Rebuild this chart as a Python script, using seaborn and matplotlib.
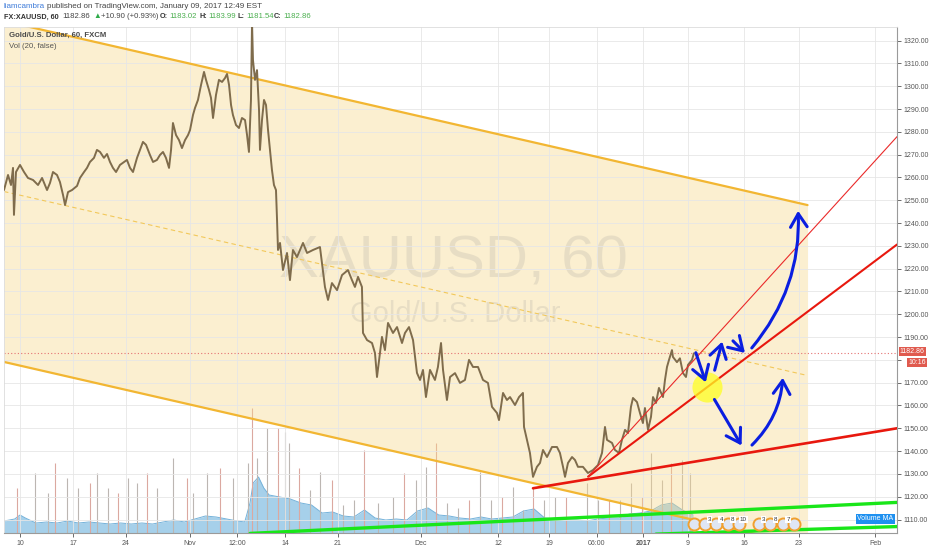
import numpy as np
import pandas as pd
import seaborn as sns
import matplotlib.pyplot as plt
from matplotlib.patches import FancyArrowPatch
from matplotlib.transforms import blended_transform_factory

# x axis = trading days since Mon 10 Oct 2016 (TradingView skips weekends)
price_day = [-1.51, -1.13, -0.85, -0.66, -0.57, -0.38, 0.00, 0.38, 0.75, 1.23, 1.70, 2.08, 2.55, 2.83, 3.11, 3.49,
             3.77, 4.06, 4.25, 4.53, 4.91, 5.38, 5.66, 6.04, 6.32, 6.60, 6.98, 7.26, 7.55, 7.92, 8.21, 8.49,
             8.77, 9.06, 9.43, 9.81, 10.09, 10.38, 10.66, 11.04, 11.32, 11.60, 11.89, 12.26, 12.55, 12.92,
             13.21, 13.49, 13.77, 14.06, 14.25, 14.43, 14.72, 15.00, 15.28, 15.57, 15.85, 16.04, 16.32, 16.51,
             16.79, 17.08, 17.36, 17.55, 17.83, 18.02, 18.21, 18.49, 18.77, 19.06, 19.34, 19.53, 19.72, 19.91,
             20.09, 20.38, 20.66, 20.94, 21.23, 21.42, 21.60, 21.79, 21.89, 21.98, 22.17, 22.36, 22.55, 22.64,
             22.83, 23.02, 23.21, 23.40, 23.58, 23.77, 23.96, 24.15,
             24.25, 24.34, 24.53, 24.81, 25.19, 25.47, 25.75, 26.13, 26.70, 27.08, 27.64, 28.30, 28.49, 28.77,
             29.06, 29.43, 29.91, 30.38, 30.94, 31.32, 31.60, 31.89, 32.26, 32.36, 32.74, 33.21, 33.49, 33.68,
             34.15, 34.43, 34.72, 35.19, 35.57, 36.04, 36.32, 36.70, 37.08, 37.45, 37.74, 38.02, 38.30, 38.68,
             39.15, 39.43, 39.72, 39.91, 40.28, 40.57, 41.04, 41.51, 41.98, 42.36, 42.74, 43.21, 43.68, 44.15,
             44.53, 45.00, 45.19, 45.57, 45.94, 46.23, 46.70, 47.08, 47.45, 47.55, 47.83, 48.11, 48.40, 48.77,
             49.06, 49.34, 49.72, 50.19, 50.66, 50.94, 51.23, 51.42, 51.70, 52.08, 52.36, 52.64, 53.11, 53.58,
             54.06, 54.53, 54.91, 55.19, 55.38, 55.85, 56.13, 56.51, 56.79, 57.08, 57.36, 57.64, 57.83, 58.21,
             58.49, 58.77, 58.96, 59.25, 59.53, 59.72, 60.00, 60.28, 60.66, 60.85, 61.04, 61.23, 61.51, 61.60,
             61.98, 62.26, 62.55, 62.83, 63.02, 63.40, 63.58]
price_close = [1254.5, 1261.1, 1256.7, 1264.2, 1243.6, 1262.4, 1265.5, 1262.4, 1259.8, 1258.9, 1256.7, 1259.8,
               1254.5, 1257.6, 1262.4, 1261.1, 1258.0, 1252.3, 1247.9, 1253.6, 1254.5, 1256.3, 1259.8, 1262.4,
               1264.2, 1266.8, 1268.6, 1272.1, 1271.2, 1268.6, 1270.3, 1266.8, 1264.2, 1262.4, 1265.5, 1266.8,
               1267.7, 1264.2, 1262.4, 1268.6, 1272.1, 1275.6, 1274.3, 1269.9, 1266.8, 1267.7, 1269.9, 1271.2,
               1268.6, 1264.2, 1272.1, 1283.9, 1278.6, 1276.4, 1272.9, 1276.4, 1278.6, 1280.8, 1287.4, 1290.5,
               1294.0, 1300.6, 1306.3, 1302.8, 1298.4, 1294.9, 1286.1, 1296.2, 1302.8, 1301.9, 1303.6, 1305.4,
               1300.6, 1291.8, 1287.4, 1283.0, 1281.7, 1286.1, 1285.2, 1278.6, 1271.2, 1294.0, 1328.0, 1311.5,
               1302.8, 1307.1, 1289.6, 1272.1, 1285.2, 1294.0, 1291.8, 1280.8, 1272.1, 1263.3, 1256.7, 1254.5,
               1241.4, 1228.2, 1231.3, 1219.4, 1226.9, 1215.0, 1228.2, 1225.1, 1231.3, 1226.9, 1228.2, 1229.5,
               1222.5, 1212.0, 1206.3, 1213.7, 1210.6, 1217.2, 1219.4, 1215.0, 1212.0, 1216.4, 1212.0, 1191.8,
               1188.7, 1187.4, 1183.0, 1172.5, 1190.1, 1184.3, 1196.2, 1191.8, 1194.4, 1187.4, 1191.8, 1194.4,
               1188.7, 1174.3, 1171.2, 1175.6, 1163.7, 1175.6, 1171.2, 1176.9, 1187.4, 1175.6, 1162.4, 1172.5,
               1174.2, 1169.9, 1171.2, 1180.0, 1176.9, 1176.9, 1171.2, 1169.9, 1159.4, 1156.7, 1153.6, 1165.5,
               1162.4, 1163.7, 1160.2, 1163.7, 1165.5, 1150.6, 1144.9, 1139.2, 1128.7, 1133.1, 1134.8, 1140.5,
               1137.4, 1141.8, 1141.8, 1139.2, 1133.1, 1128.7, 1134.8, 1137.4, 1136.1, 1133.1, 1133.1, 1130.4,
               1131.7, 1133.9, 1139.2, 1150.6, 1144.9, 1143.6, 1140.5, 1139.2, 1144.9, 1149.3, 1147.9, 1159.4,
               1163.3, 1161.5, 1156.7, 1152.3, 1158.9, 1149.3, 1155.0, 1163.7, 1161.1, 1167.7, 1163.7, 1171.2,
               1176.9, 1180.0, 1184.3, 1181.3, 1179.0, 1180.7, 1174.2, 1172.5, 1177.8, 1180.0, 1182.9]
last_price = 1182.86

# volume pane (arbitrary units), smoothed body + the hourly spikes
vol_day = [-1.5, -0.5, 0.0, 0.5, 1.5, 2.5, 3.5, 4.5, 5.5, 6.5, 7.5, 8.5, 9.5, 10.5, 11.5, 12.5, 13.5, 14.5,
           15.5, 16.5, 17.5, 18.5, 19.5, 20.5, 21.2, 21.7, 22.0, 22.5, 23.0, 23.5, 24.5, 25.5, 26.5, 27.5,
           28.5, 29.5, 30.5, 31.5, 32.5, 33.5, 34.5, 35.5, 36.5, 37.5, 38.5, 39.5, 40.5, 41.5, 42.5, 43.5,
           44.5, 45.5, 46.5, 47.5, 48.5, 49.5, 50.5, 51.5, 52.5, 53.5, 54.5, 55.5, 56.5, 57.5, 58.5, 59.5,
           60.5, 61.5, 62.5, 63.5]
vol_level = [12, 14, 18, 15, 10, 11, 10, 12, 10, 11, 10, 9, 10, 9, 10, 9, 11, 13, 11, 14, 17, 16, 14, 12,
             11, 30, 50, 56, 45, 38, 36, 34, 30, 28, 20, 21, 17, 16, 23, 15, 13, 14, 13, 22, 25, 18, 17, 15,
             14, 16, 14, 15, 16, 22, 24, 15, 14, 13, 13, 12, 14, 15, 15, 19, 20, 22, 28, 30, 23, 18]
spike_day = [-0.3, 1.4, 2.6, 3.3, 4.4, 5.5, 6.6, 7.3, 8.3, 9.2, 10.2, 11.0, 12.0, 12.9, 14.4, 15.8, 16.3,
             17.6, 18.9, 20.1, 21.5, 21.9, 22.4, 23.3, 24.3, 25.0, 25.4, 26.3, 27.4, 28.3, 29.4, 30.5, 31.5,
             32.5, 33.8, 35.2, 36.2, 37.4, 38.3, 39.2, 40.3, 41.3, 42.4, 43.4, 44.4, 45.5, 46.5, 47.5, 48.4,
             49.4, 50.5, 51.5, 53.5, 54.5, 55.6, 56.6, 57.6, 58.7, 59.5, 60.6, 61.4, 62.5, 63.2]
spike_height = [45, 60, 40, 70, 55, 45, 50, 60, 45, 40, 55, 50, 60, 45, 75, 55, 40, 60, 65, 55, 70, 125,
                75, 105, 105, 101, 90, 65, 43, 61, 53, 28, 33, 83, 30, 36, 60, 53, 66, 90, 30, 25, 33, 61,
                33, 36, 46, 23, 46, 33, 36, 36, 50, 33, 33, 33, 50, 36, 80, 53, 70, 73, 60]

# drawings: channel, trend lines, support lines
chan_day = [-1.51, 74.3]
chan_upper = [1328.6, 1247.9]
chan_lower = [1179.1, 1098.4]
chan_mid = [1253.85, 1173.15]
red_thick_day, red_thick = [48.4, 82.74], [1123.7, 1150.0]
red_mid_day, red_mid = [53.6, 82.74], [1128.8, 1230.6]
red_thin_day, red_thin = [53.6, 82.74], [1128.8, 1277.9]
green_up_day, green_up = [21.7, 82.74], [1103.9, 1117.5]
green_low_day, green_low = [60.0, 82.74], [1103.6, 1106.9]

# hand-drawn forecast arrows: (start day, start price, end day, end price, curvature)
arrow_paths = [(63.68, 1184.3, 64.78, 1169.0, 0.0),
               (65.47, 1174.3, 66.32, 1189.2, 0.0),
               (67.08, 1189.2, 68.58, 1182.2, 0.0),
               (68.87, 1184.3, 73.40, 1246.6, 0.2),
               (65.38, 1163.7, 68.21, 1141.4, 0.0),
               (68.87, 1141.8, 71.98, 1173.4, 0.2)]
pivot_day, pivot_price = 64.78, 1168.2

# economic calendar icons
event_day = [63.6, 64.6, 65.7, 66.8, 67.8, 69.7, 70.8, 72.0, 73.0]
event_count = ['', '3', '4', '8', '10', '3', '8', '7', '']

tick_day = [0, 5, 10, 16.0, 20.5, 25, 30, 37.8, 45.1, 49.9, 54.4, 58.8, 63.0, 68.3, 73.5, 80.7]
tick_label = ['10', '17', '24', 'Nov', '12:00', '14', '21', 'Dec', '12', '19', '06:00', '2017', '9', '16',
              '23', 'Feb']
price_ticks = list(range(1110, 1321, 10))

sns.set_theme(style='white')
plt.rcParams['font.family'] = ['Liberation Sans', 'DejaVu Sans']

fig = plt.figure(figsize=(9.32, 5.5), dpi=100)
ax = fig.add_axes([4 / 932, 17 / 550, 893 / 932, 506 / 550])
axv = ax.twinx()
ax.set_zorder(axv.get_zorder() + 1)
ax.patch.set_visible(False)

# volume
axv.fill_between(vol_day, 0, vol_level, color='#a6d0ea', lw=0)
axv.plot(vol_day, vol_level, color='#74b2da', lw=0.7)
spike_cols = ['#bcb6b2' if i % 3 else '#dba8a0' for i in range(len(spike_day))]
axv.vlines(spike_day, 0, spike_height, colors=spike_cols, lw=0.8)
axv.set_ylim(0, 506)
axv.set_axis_off()

ax.set_xlim(-1.51, 82.74)
ax.set_ylim(1104.08, 1326.0)

# channel
ax.fill_between(chan_day, chan_lower, chan_upper, color='#f7d98a', alpha=0.4, lw=0, zorder=0.2)
ax.plot(chan_day, chan_upper, color='#f2b632', lw=1.6, zorder=2)
ax.plot(chan_day, chan_lower, color='#f2b632', lw=1.6, zorder=2)
ax.plot(chan_day, chan_mid, color='#f2c85a', lw=0.8, ls=(0, (4, 3)), zorder=2)

# watermark
ax.text(453 / 932, 1 - 262 / 550, 'XAUUSD, 60', transform=fig.transFigure, fontsize=43,
        color='#8a8a8a', alpha=0.17, ha='center', va='center', zorder=0.3)
ax.text(455 / 932, 1 - 314 / 550, 'Gold/U.S. Dollar', transform=fig.transFigure, fontsize=21,
        color='#8a8a8a', alpha=0.17, ha='center', va='center', zorder=0.3)

# price
sns.lineplot(x=price_day, y=price_close, ax=ax, color='#7f6c4c', lw=1.4, sort=False,
             estimator=None, zorder=3)
ax.axhline(last_price, color='#e57373', lw=0.8, ls=(0, (1, 2)), zorder=2.5)

ax.plot(red_thick_day, red_thick, color='#e8180e', lw=1.9, zorder=4)
ax.plot(red_mid_day, red_mid, color='#e8180e', lw=1.5, zorder=4)
ax.plot(red_thin_day, red_thin, color='#ea2a2a', lw=0.8, zorder=4)
ax.plot(green_up_day, green_up, color='#19e619', lw=2.4, zorder=4)
ax.plot(green_low_day, green_low, color='#19e619', lw=2.4, zorder=4)

ax.scatter([pivot_day], [pivot_price], s=470, color='#ffff22', alpha=0.75, lw=0, zorder=5)
for x0, y0, x1, y1, rad in arrow_paths:
    ax.add_patch(FancyArrowPatch((x0, y0), (x1, y1), connectionstyle=f'arc3,rad={rad}',
                                 arrowstyle='->,head_length=0.8,head_width=0.5', mutation_scale=12,
                                 color='#0a1ee0', lw=2.2, zorder=6))

# calendar icons
bt = blended_transform_factory(ax.transData, ax.transAxes)
ax.scatter(event_day, [0.018] * len(event_day), transform=bt, s=75, facecolor='#dfe6f4',
           edgecolor='#f0a030', lw=1.4, zorder=7)
for d, c in zip(event_day, event_count):
    if c:
        ax.text(d + 0.45, 0.026, c, transform=bt, fontsize=4.5, color='#333', ha='center', va='center',
                zorder=8, bbox=dict(boxstyle='square,pad=0.15', fc='white', ec='none'))

# axes styling
ax.grid(True, color='#e6e6e6', lw=0.6)
ax.set_axisbelow(True)
ax.yaxis.tick_right()
# the 1180 label sits under the last-price tag, as on TradingView
ax.set_yticks(price_ticks, ['' if v == 1180 else f'{v:.2f}' for v in price_ticks])
ax.set_xticks(tick_day, tick_label)
ax.get_xticklabels()[11].set_fontweight('bold')
ax.tick_params(axis='y', labelsize=5, colors='#555555', length=3, width=0.6, pad=2, right=True, left=False)
ax.tick_params(axis='x', labelsize=5, colors='#555555', length=3, width=0.6, pad=2, bottom=True)
ax.set_xlabel('')
ax.set_ylabel('')
for side in ['left', 'top']:
    ax.spines[side].set_color('#dcdcdc')
    ax.spines[side].set_linewidth(0.6)
for side in ['right', 'bottom']:
    ax.spines[side].set_color('#9a9a9a')
    ax.spines[side].set_linewidth(0.8)

yt = blended_transform_factory(ax.transAxes, ax.transData)
ax.text(1.003, last_price + 0.8, f'{last_price:.2f}', transform=yt, fontsize=5, color='white', va='center',
        ha='left', clip_on=False, zorder=9, bbox=dict(boxstyle='square,pad=0.15', fc='#e05a4e', ec='none'))
ax.text(1.0125, last_price - 4.2, '10:16', transform=yt, fontsize=5, color='white', va='center',
        ha='left', clip_on=False, zorder=9, bbox=dict(boxstyle='square,pad=0.15', fc='#e05a4e', ec='none'))
ax.text(0.996, 0.028, 'Volume MA', transform=ax.transAxes, fontsize=5, color='white', ha='right',
        va='center', zorder=9, bbox=dict(boxstyle='square,pad=0.25', fc='#1e90f0', ec='none'))

# header + legend
fig.text(3 / 932, 1 - 7 / 550, 'liamcambra', fontsize=5.8, color='#3d7bd9', va='center')
fig.text(47 / 932, 1 - 7 / 550, 'published on TradingView.com, January 09, 2017 12:49 EST', fontsize=5.8,
         color='#444444', va='center')
row2 = [(4, 'FX:XAUUSD, 60', '#333333', 'bold'), (62, '1182.86', '#444444', 'normal'),
        (93, '\u25b2', '#2eab4a', 'normal'), (101, '+10.90 (+0.93%)', '#444444', 'normal'),
        (160, 'O:', '#333333', 'bold'), (169, '1183.02', '#4caf50', 'normal'),
        (199, 'H:', '#333333', 'bold'), (208, '1183.99', '#4caf50', 'normal'),
        (238, 'L:', '#333333', 'bold'), (246, '1181.54', '#4caf50', 'normal'),
        (274, 'C:', '#333333', 'bold'), (283, '1182.86', '#4caf50', 'normal')]
for px, s, c, w in row2:
    fs = 5.2 if w == 'bold' else 5.6
    fig.text(px / 932, 1 - 17 / 550, s, fontsize=fs, color=c, fontweight=w, va='center')
fig.text(9 / 932, 1 - 35 / 550, 'Gold/U.S. Dollar, 60, FXCM', fontsize=5.6, color='#4a4a4a',
         fontweight='semibold', va='center')
fig.text(9 / 932, 1 - 46 / 550, 'Vol (20, false)', fontsize=5.6, color='#555555', va='center')

fig.savefig('out.png', dpi=100)
